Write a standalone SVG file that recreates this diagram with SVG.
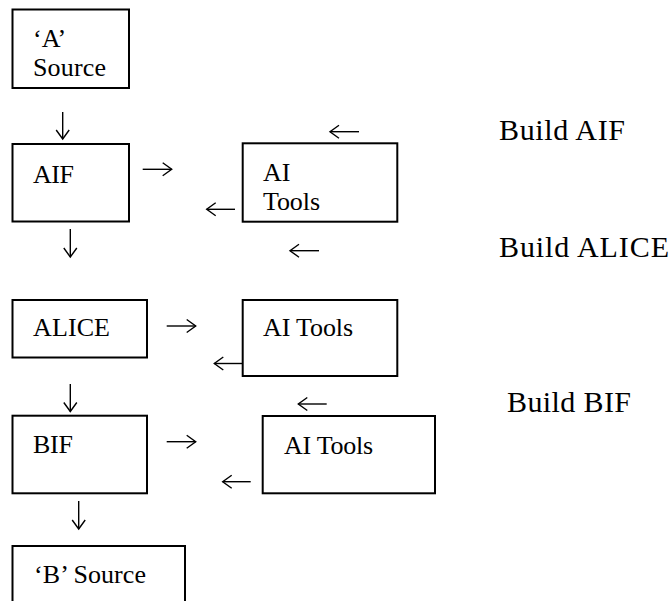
<svg xmlns="http://www.w3.org/2000/svg" width="671" height="601" viewBox="0 0 671 601">
  <defs>
    <marker id="head" markerUnits="userSpaceOnUse" markerWidth="20" markerHeight="20" refX="0" refY="0" viewBox="-11 -10 13 20" orient="auto" overflow="visible">
      <path d="M-9,-6.5 L0,0 L-9,6.5" fill="none" stroke="#000" stroke-width="1.4" stroke-linejoin="miter"/>
    </marker>
  </defs>
  <style>
    .box { fill: #fff; stroke: #000; stroke-width: 2; }
    .lbl { font-family: "Liberation Serif", "Times New Roman", serif; font-size: 26px; fill: #000; }
    .side { font-family: "Liberation Serif", "Times New Roman", serif; font-size: 30px; fill: #000; }
    .arr { fill: none; stroke: #000; stroke-width: 1.4; marker-end: url(#head); }
  </style>
  <rect width="671" height="601" fill="#fff"/>

  <g id="a-source">
    <rect class="box" x="12.5" y="9.5" width="116.5" height="78.5"/>
    <text class="lbl" x="33" y="47">‘A’</text>
    <text class="lbl" x="33" y="76" textLength="73" lengthAdjust="spacing">Source</text>
  </g>

  <g id="aif">
    <rect class="box" x="12.5" y="144" width="116.5" height="77.5"/>
    <text class="lbl" x="33" y="183" textLength="41" lengthAdjust="spacing">AIF</text>
  </g>

  <g id="ai-tools-1">
    <rect class="box" x="242.7" y="143.3" width="154.6" height="78.4"/>
    <text class="lbl" x="263" y="181">AI</text>
    <text class="lbl" x="263" y="210" textLength="57" lengthAdjust="spacing">Tools</text>
  </g>

  <g id="alice">
    <rect class="box" x="12.5" y="300" width="134.5" height="57.5"/>
    <text class="lbl" x="33" y="336" textLength="77" lengthAdjust="spacing">ALICE</text>
  </g>

  <g id="ai-tools-2">
    <rect class="box" x="242.7" y="300" width="154.6" height="76"/>
    <text class="lbl" x="263" y="336" textLength="90" lengthAdjust="spacing">AI Tools</text>
  </g>

  <g id="bif">
    <rect class="box" x="12.5" y="415.7" width="134.5" height="77.6"/>
    <text class="lbl" x="33" y="453" textLength="40" lengthAdjust="spacing">BIF</text>
  </g>

  <g id="ai-tools-3">
    <rect class="box" x="262.7" y="416" width="172.3" height="77.3"/>
    <text class="lbl" x="284" y="454" textLength="89" lengthAdjust="spacing">AI Tools</text>
  </g>

  <g id="b-source">
    <rect class="box" x="12.5" y="546" width="172.5" height="62"/>
    <text class="lbl" x="34" y="583" textLength="112" lengthAdjust="spacing">‘B’ Source</text>
  </g>

  <g id="stage-labels">
    <text class="side" x="499" y="140" textLength="126" lengthAdjust="spacing">Build AIF</text>
    <text class="side" x="499" y="257" textLength="170" lengthAdjust="spacing">Build ALICE</text>
    <text class="side" x="507" y="412" textLength="124" lengthAdjust="spacing">Build BIF</text>
  </g>

  <g id="connectors">
    <!-- downward flow along the left column -->
    <path class="arr" d="M62.7,112 V139"/>
    <path class="arr" d="M70.3,229 V257"/>
    <path class="arr" d="M70.3,384 V411.5"/>
    <path class="arr" d="M78.7,501 V529"/>
    <!-- out to the tools -->
    <path class="arr" d="M142.7,169.3 H171.7"/>
    <path class="arr" d="M166.7,326 H195.7"/>
    <path class="arr" d="M166.7,441.7 H195.7"/>
    <!-- back from the tools -->
    <path class="arr" d="M359,131.7 H330"/>
    <path class="arr" d="M235,209.3 H206.7"/>
    <path class="arr" d="M319,250.7 H290"/>
    <path class="arr" d="M242.7,363.5 H214.3"/>
    <path class="arr" d="M326.7,404 H298.3"/>
    <path class="arr" d="M250.7,481.7 H222.7"/>
  </g>
</svg>
